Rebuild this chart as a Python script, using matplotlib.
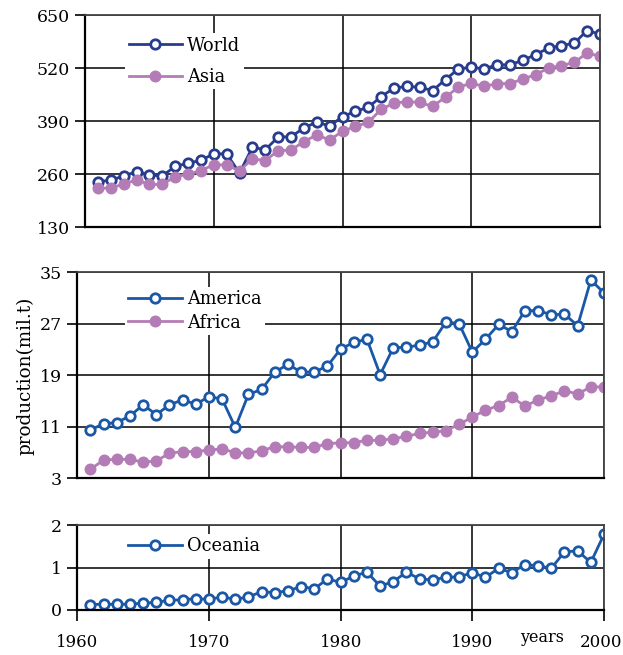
import matplotlib
matplotlib.use("Agg")
import matplotlib.pyplot as plt
from matplotlib.transforms import ScaledTranslation

years = list(range(1961, 2001))

world = [242, 245, 256, 266, 258, 256, 279, 287, 294, 310,
         310, 263, 326, 320, 351, 352, 373, 388, 378, 401,
         414, 424, 450, 471, 475, 473, 465, 492, 518, 522,
         518, 528, 528, 539, 553, 569, 575, 581, 612, 603]
asia = [226, 226, 236, 246, 235, 235, 254, 260, 269, 283,
        283, 268, 298, 293, 318, 319, 340, 356, 344, 365,
        377, 387, 419, 434, 438, 436, 426, 449, 473, 483,
        475, 482, 482, 493, 504, 520, 526, 534, 557, 549]
america = [10.5, 11.5, 11.65, 12.7, 14.4, 12.9, 14.4, 15.2, 14.5, 15.7,
           15.3, 10.9, 16.05, 16.8, 19.5, 20.7, 19.5, 19.5, 20.45, 23.1,
           24.1, 24.6, 19.1, 23.3, 23.35, 23.7, 24.2, 27.3, 27.0, 22.6,
           24.6, 26.9, 25.8, 29.05, 29.05, 28.4, 28.5, 26.7, 33.8, 31.8]
africa = [4.4, 5.85, 5.95, 5.95, 5.5, 5.7, 6.9, 7.15, 7.15, 7.4,
          7.55, 7.0, 6.9, 7.3, 7.9, 7.9, 7.8, 7.8, 8.4, 8.5,
          8.55, 8.9, 8.9, 9.15, 9.5, 10.0, 10.15, 10.4, 11.4, 12.5,
          13.6, 14.3, 15.6, 14.2, 15.2, 15.8, 16.6, 16.1, 17.2, 17.2]
oceania = [0.125, 0.14, 0.13, 0.14, 0.16, 0.18, 0.23, 0.24, 0.27, 0.25,
           0.31, 0.25, 0.31, 0.43, 0.41, 0.45, 0.55, 0.50, 0.73, 0.65,
           0.80, 0.89, 0.56, 0.67, 0.89, 0.73, 0.71, 0.77, 0.78, 0.88,
           0.77, 0.98, 0.88, 1.07, 1.04, 0.98, 1.37, 1.39, 1.12, 1.78]

top_ticks = [130, 260, 390, 520, 650]
mid_ticks = [3, 11, 19, 27, 35]
bot_ticks = [0, 1, 2]
x_ticks = [1960, 1970, 1980, 1990, 2000]

NAVY = "#283c8e"
BLUE = "#1a58a6"
ORCHID = "#b47cb6"

plt.rcParams["font.family"] = ["DejaVu Serif"]
plt.rcParams["font.size"] = 12.5

fig = plt.figure(figsize=(6.23, 6.55), dpi=100)
W, H = 623, 655


def px_axes(left, right, top, bottom):
    return fig.add_axes([left / W, 1 - bottom / H, (right - left) / W, (bottom - top) / H])


ax1 = px_axes(85, 600, 15, 227.3)
ax2 = px_axes(77.3, 604, 272.3, 478.3)
ax3 = px_axes(77.3, 604, 525, 610)

open_kw = dict(marker="o", markersize=6.8, markerfacecolor="white", markeredgewidth=2, linewidth=2)
fill_kw = dict(marker="o", markersize=7.6, linewidth=2)

ax1.plot(years, world, color=NAVY, label="World", **open_kw)
ax1.plot(years, asia, color=ORCHID, label="Asia", **fill_kw)
ax2.plot(years, america, color=BLUE, label="America", **open_kw)
ax2.plot(years, africa, color=ORCHID, label="Africa", **fill_kw)
ax3.plot(years, oceania, color=BLUE, label="Oceania", **open_kw)

for ax, ticks in ((ax1, top_ticks), (ax2, mid_ticks), (ax3, bot_ticks)):
    ax.set_xlim(1960, 2000)
    ax.set_ylim(ticks[0], ticks[-1])
    ax.set_yticks(ticks)
    ax.set_xticks(x_ticks)
    ax.grid(True, color="black", linewidth=1.1)
    ax.set_axisbelow(True)
    ax.tick_params(axis="y", direction="out", length=7, width=1.2, labelsize=12.5, pad=4)
    ax.tick_params(axis="x", direction="out", length=8, width=1.2, labelsize=12)
    for side in ("left", "bottom"):
        ax.spines[side].set_linewidth(1.6)
    for side in ("top", "right"):
        ax.spines[side].set_linewidth(1.3)
        ax.spines[side].set_color("#444444")

for ax in (ax1, ax2):
    ax.tick_params(axis="x", length=0, labelbottom=False)

ax3.tick_params(axis="x", pad=9)

# nudge the last year label so it stays inside the figure
last_label = ax3.get_xticklabels()[-1]
last_label.set_transform(last_label.get_transform() + ScaledTranslation(-3 / 100, 0, fig.dpi_scale_trans))

leg_kw = dict(frameon=True, fancybox=False, edgecolor="none", facecolor="white", framealpha=1,
              fontsize=12.8, handlelength=3.0, handletextpad=0.3, borderpad=0.2, borderaxespad=0)
ax1.legend(loc="upper left", bbox_to_anchor=(0.078, 0.915), labelspacing=0.75, **leg_kw)
ax2.legend(loc="upper left", bbox_to_anchor=(0.09, 0.93), labelspacing=0.3, **leg_kw)
ax3.legend(loc="upper left", bbox_to_anchor=(0.09, 0.9), labelspacing=0.2, **leg_kw)

fig.text(25 / W, 1 - 376 / H, "production(mil.t)", rotation=90, ha="center", va="center", fontsize=13.2)
fig.text(542 / W, 1 - 638 / H, "years", ha="center", va="center", fontsize=11.5)

fig.savefig("out.png", dpi=100)
